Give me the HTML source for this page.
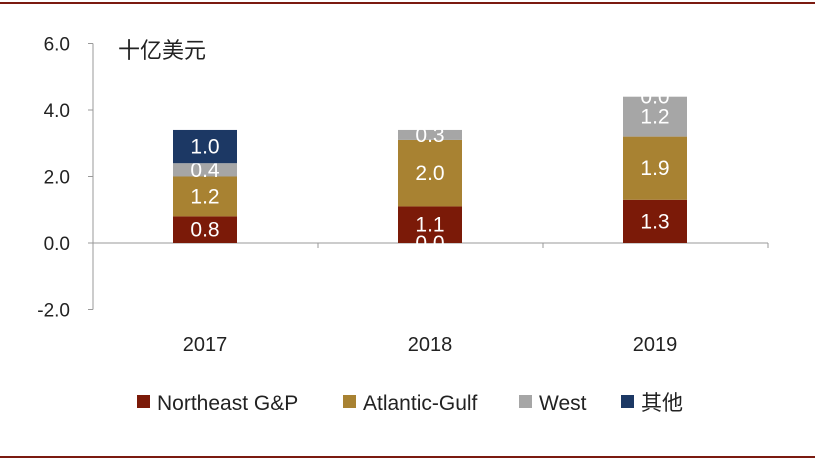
<!DOCTYPE html>
<html><head><meta charset="utf-8"><style>
body{margin:0;background:#fff;}
svg{display:block;font-family:"Liberation Sans","Noto Sans CJK SC",sans-serif;}
</style></head><body>
<svg id="chart" width="815" height="461">
<line x1="0" y1="3" x2="815" y2="3" stroke="#7b1a10" stroke-width="2"/>
<line x1="0" y1="457" x2="815" y2="457" stroke="#7b1a10" stroke-width="2"/>
<text x="118" y="58" font-size="22" fill="#222">十亿美元</text>
<g id="plot"></g>
</svg>
<script>
const categories=["2017","2018","2019"];
const seriesNames=["Northeast G&P","Atlantic-Gulf","West","其他"];
const northeast=[0.8,1.1,1.3];
const atlantic=[1.2,2.0,1.9];
const west=[0.4,0.3,1.2];
const other=[1.0,0.0,0.0];
const yTicks=[-2,0,2,4,6];
const yTickLabels=["-2.0","0.0","2.0","4.0","6.0"];
const colors=["#7b1a08","#a88232","#a6a6a6","#1c3864"];
const series=[northeast,atlantic,west,other];
const NS="http://www.w3.org/2000/svg";
const g=document.getElementById('plot');
function y(v){return 243-v*33.25;}
function x(i){return 205+i*225;}
function el(t,a){const e=document.createElementNS(NS,t);for(const k in a)e.setAttribute(k,a[k]);g.appendChild(e);return e;}
let ax=el('line',{x1:93,y1:y(6),x2:93,y2:y(-2),stroke:'#999','stroke-width':1});


yTicks.forEach((t,i)=>{
 const tk=el('line',{x1:88,y1:y(t),x2:93,y2:y(t),stroke:'#999'});
 
 
 const tx=el('text',{x:70,y:y(t)+7,'font-size':19,'text-anchor':'end',fill:'#222'});
 tx.textContent=yTickLabels[i];
 
 
});
let xa=el('line',{x1:93,y1:y(0),x2:768,y2:y(0),stroke:'#999'});


[0,1,2,3].forEach(i=>{
 const t=el('line',{x1:93+i*225,y1:y(0),x2:93+i*225,y2:y(0)+5,stroke:'#999'});
 
 
});
const bw=64;
const zeroAtBase=[false,true,false];
categories.forEach((c,i)=>{
 let base=0;
 series.forEach((s,j)=>{
  const v=s[i];
  const r=el('rect',{x:x(i)-bw/2,y:y(base+v),width:bw,height:Math.max(0,y(base)-y(base+v)),fill:colors[j]});
  
  
  let ly=(v===0&&zeroAtBase[i])?y(0):y(base+v/2);
  const t=el('text',{x:x(i),y:ly+7,'font-size':21,'text-anchor':'middle',fill:'#fff'});
  t.textContent=v.toFixed(1);
  
  
  base+=v;
 });
 const xl=el('text',{x:x(i),y:351,'font-size':20,'text-anchor':'middle',fill:'#222'});
 xl.textContent=c;
 
 
});
const lx=[137,343,519,621];
seriesNames.forEach((n,j)=>{
 const r=el('rect',{x:lx[j],y:395,width:13,height:13,fill:colors[j]});
 
 
 const t=el('text',{x:lx[j]+20,y:410,'font-size':21,fill:'#222'});
 t.textContent=n;
 
 
});
</script>
</body></html>
